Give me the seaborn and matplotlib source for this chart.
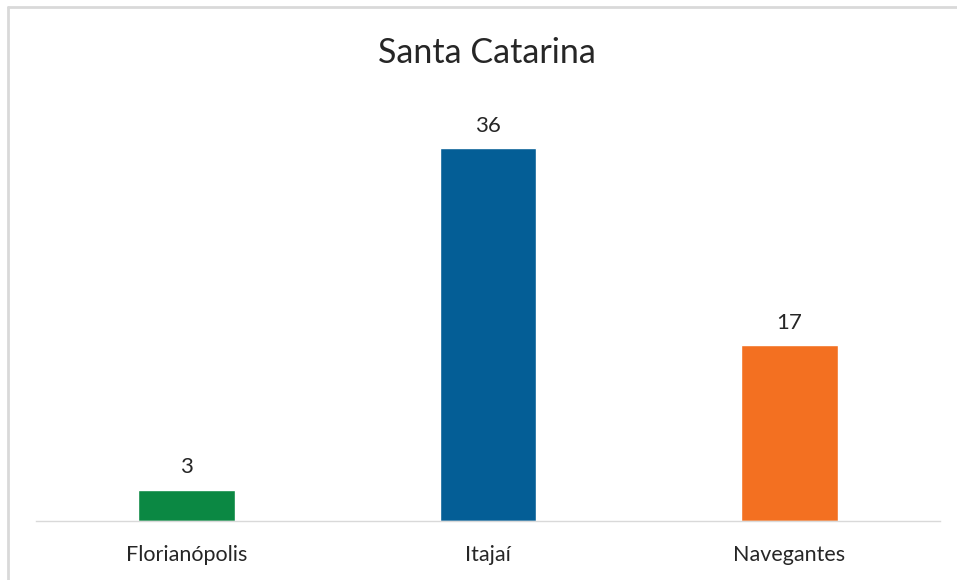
import matplotlib
matplotlib.use("Agg")
import matplotlib.pyplot as plt
import seaborn as sns
import pandas as pd
from matplotlib.lines import Line2D

# Chart data
cidades = ["Florianópolis", "Itajaí", "Navegantes"]
valores = [3, 36, 17]
cores = ["#0B8843", "#045E96", "#F37021"]

sns.set_theme(style="white")
plt.rcParams["font.family"] = ["Lato", "DejaVu Sans"]

df = pd.DataFrame({"cidade": cidades, "valor": valores})

fig = plt.figure(figsize=(9.57, 5.80), dpi=100)
ax = fig.add_axes([36 / 957, 59 / 580, 904 / 957, 414 / 580])

sns.barplot(data=df, x="cidade", y="valor", hue="cidade", palette=cores,
            width=0.32, saturation=1, legend=False, ax=ax)

ax.set_ylim(0, 40)
ax.set_xlim(-0.5, 2.5)
ax.set_yticks([])
ax.set_xlabel("")
ax.set_ylabel("")
for side in ["top", "right", "left"]:
    ax.spines[side].set_visible(False)
ax.spines["bottom"].set_color("#D9D9D9")
ax.spines["bottom"].set_linewidth(1.0)
ax.tick_params(axis="x", length=0, pad=17, labelsize=15.5, labelcolor="#262626")

# data labels over each bar
for container in ax.containers:
    ax.bar_label(container, padding=9, fontsize=16, color="#262626")

fig.text(487 / 957, 1 - 53 / 580, "Santa Catarina", ha="center", va="center",
         fontsize=24.5, color="#262626")

# chart frame (left and top edges visible)
fig.add_artist(Line2D([8 / 957, 8 / 957], [0, 1 - 7 / 580], transform=fig.transFigure,
                      color="#D9D9D9", linewidth=2))
fig.add_artist(Line2D([8 / 957, 1], [1 - 7 / 580, 1 - 7 / 580], transform=fig.transFigure,
                      color="#D9D9D9", linewidth=2))

fig.savefig("out.png", dpi=100, facecolor="white")
